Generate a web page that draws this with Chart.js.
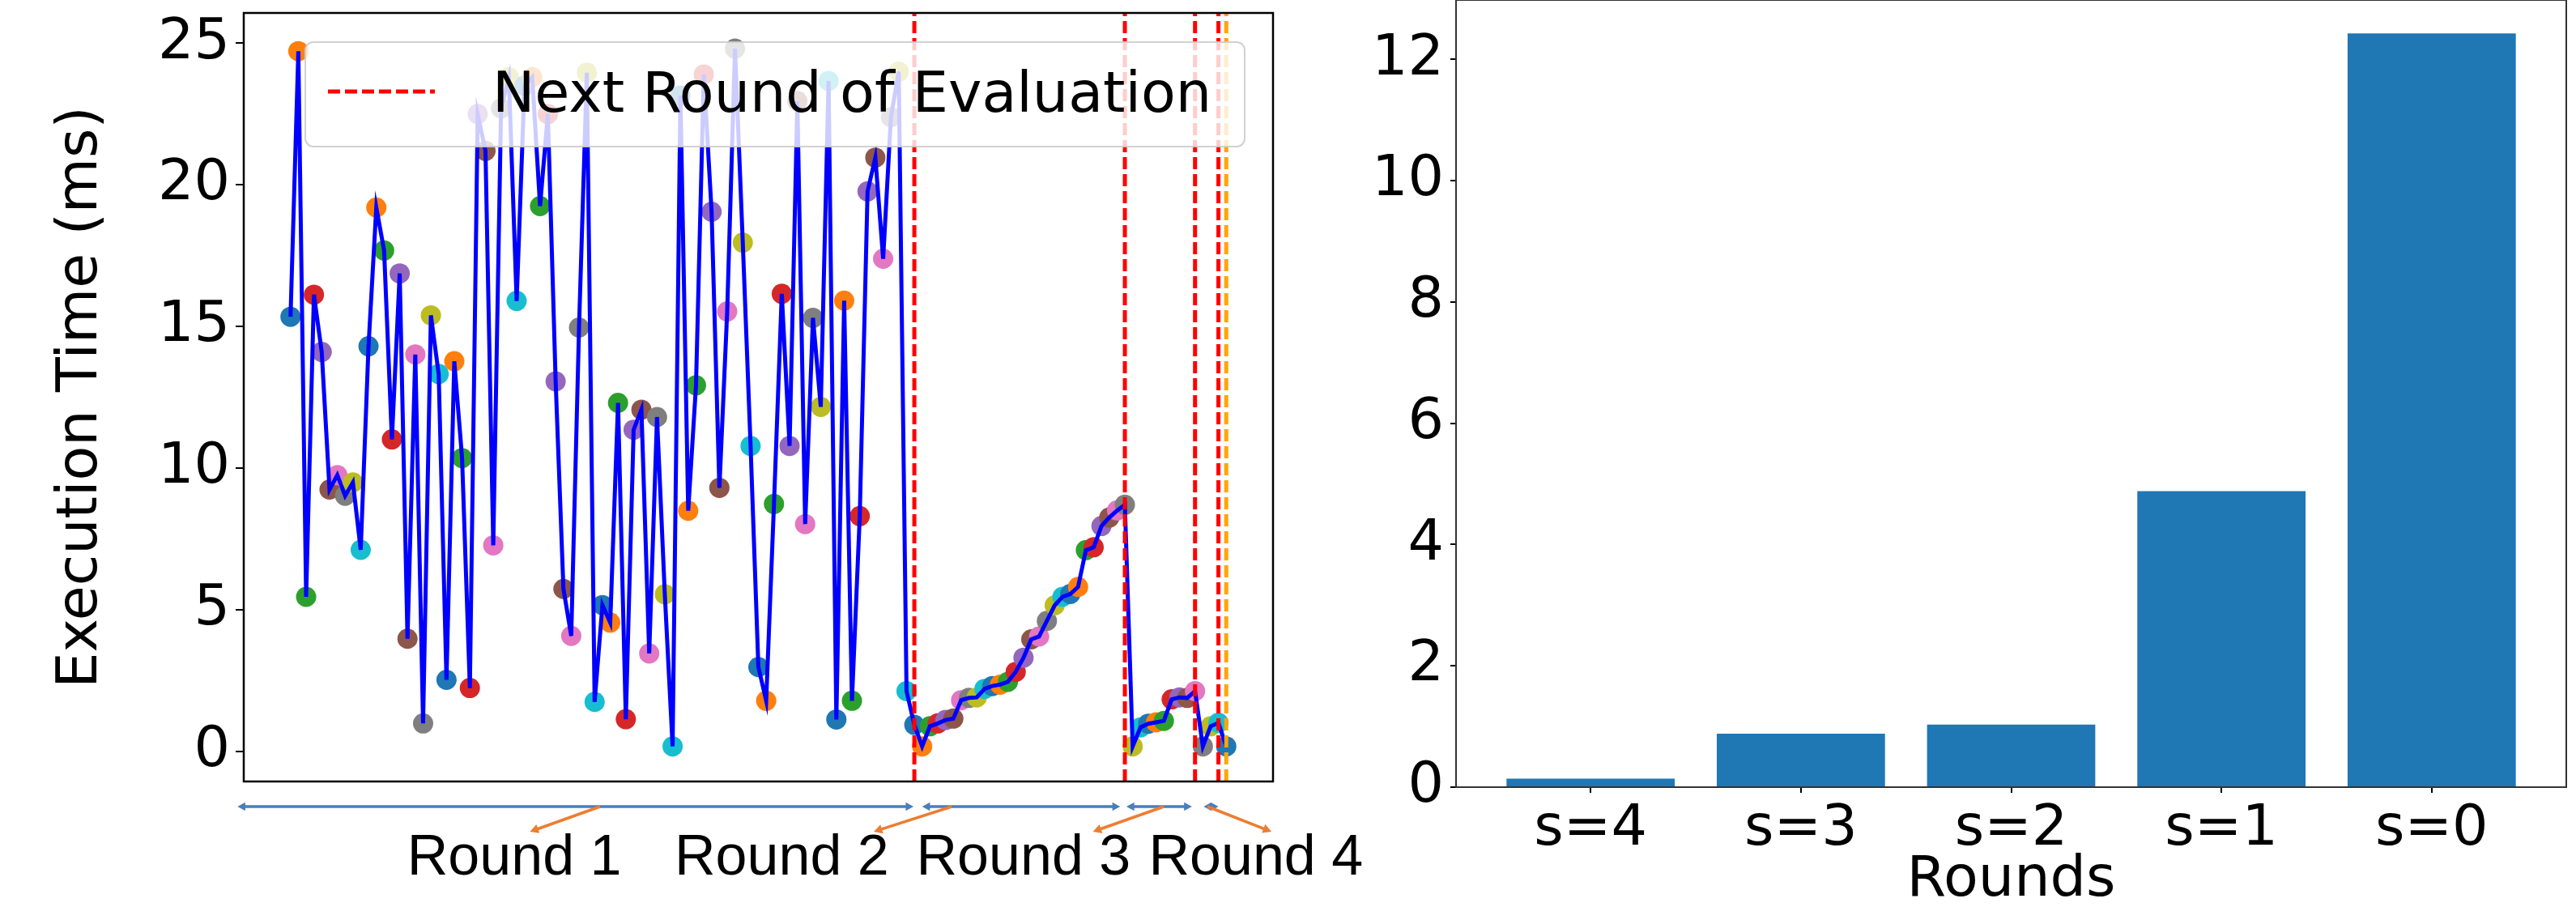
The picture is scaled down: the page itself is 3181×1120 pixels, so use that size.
<!DOCTYPE html>
<html>
<head>
<meta charset="utf-8">
<script src="https://cdn.jsdelivr.net/npm/chart.js@4.4.1/dist/chart.umd.min.js"></script>
<style>
  html, body { margin: 0; padding: 0; background: #fff; }
  body { width: 3181px; height: 1120px; position: relative; overflow: hidden; }
  #timeline { position: absolute; left: 0; top: 0; }
  #rounds { position: absolute; left: 1640px; top: 0; }
</style>
</head>
<body>
<canvas id="timeline" width="1700" height="1120"></canvas>
<canvas id="rounds" width="1541" height="1150"></canvas>
<script>
// execution time (ms) of each evaluated config, in the order they ran
const round1Times = [
  15.34, 24.72, 5.45, 16.12, 14.1, 9.24, 9.75, 9.02, 9.49, 7.11,
  14.3, 19.2, 17.68, 11.01, 16.87, 3.97, 14.01, 0.98, 15.39, 13.32,
  2.52, 13.77, 10.35, 2.23, 22.5, 21.2, 7.27, 22.7, 23.8, 15.9,
  23.5, 23.8, 19.25, 22.5, 13.06, 5.73, 4.07, 14.96, 23.96, 1.74,
  5.16, 4.54, 12.3, 1.13, 11.35, 12.06, 3.45, 11.8, 5.54, 0.17,
  23.15, 8.49, 12.92, 23.9, 19.05, 9.3, 15.53, 24.81, 17.96, 10.78,
  2.97, 1.78, 8.73, 16.15, 10.78, 22.96, 8.02, 15.3, 12.16, 23.67,
  1.12, 15.91, 1.78, 8.3, 19.77, 20.96, 17.39, 22.39, 24.0, 2.12
];
const round2Times = [
  0.93, 0.17, 0.88, 0.98, 1.10, 1.15, 1.80, 1.88, 1.90, 2.20,
  2.30, 2.35, 2.45, 2.80, 3.30, 3.95, 4.05, 4.60, 5.15, 5.45,
  5.55, 5.80, 7.10, 7.20, 7.95, 8.25, 8.50
];
const round3Times = [8.70, 0.17, 0.84, 0.97, 1.02, 1.07, 1.83, 1.90, 1.88];
const round4Times = [2.12, 0.17, 0.88, 1.00, 0.17];

// where a new round starts (index of the config), and the final pick
const nextRoundAt = [80, 107, 116, 119];
const finalAt = [120];
const timeTicks = [0, 5, 10, 15, 20, 25];

// time per round for the bar chart
const roundLabels = ["s=4", "s=3", "s=2", "s=1", "s=0"];
const roundCosts = [0.14, 0.88, 1.03, 4.88, 12.43];
const costTicks = [0, 2, 4, 6, 8, 10, 12];

// the arrows drawn under the left chart (in config-index units)
const roundNames = ["Round 1", "Round 2", "Round 3", "Round 4"];
const roundSpans = [[-6.8, 79.9], [81.0, 106.4], [107.2, 115.6], [117.1, 119.0]];
const calloutFrom = [39.7, 84.8, 112.0, 117.6];
const calloutTo = [30.7, 74.8, 102.9, 125.8];
const calloutText = [28.7, 63.0, 94.0, 123.8];

const tab10 = ["#1f77b4", "#ff7f0e", "#2ca02c", "#d62728", "#9467bd",
               "#8c564b", "#e377c2", "#7f7f7f", "#bcbd22", "#17becf"];

Chart.defaults.font.family = "'DejaVu Sans', sans-serif";
Chart.defaults.font.size = 70;
Chart.defaults.color = "#000";
Chart.defaults.animation = false;
Chart.defaults.events = [];
Chart.defaults.plugins.legend.display = false;
Chart.defaults.plugins.tooltip.enabled = false;

const yMin = -1.07, yMax = 26.07;

const allTimes = [...round1Times, ...round2Times, ...round3Times, ...round4Times];
const points = allTimes.map((v, i) => ({ x: i, y: v }));

function frame(width, color) {
  return {
    id: "frame",
    afterDraw(chart) {
      const { ctx, chartArea: a } = chart;
      ctx.save();
      ctx.strokeStyle = color;
      ctx.lineWidth = width;
      ctx.strokeRect(a.left, a.top, a.right - a.left, a.bottom - a.top);
      ctx.restore();
    },
  };
}

const legendBox = {
  id: "legendBox",
  afterDatasetsDraw(chart) {
    const { ctx, chartArea: a } = chart;
    const x = a.left + 76, y = a.top + 36, w = 1160, h = 129;
    ctx.save();
    ctx.beginPath();
    ctx.roundRect(x, y, w, h, 10);
    ctx.fillStyle = "rgba(255,255,255,0.8)";
    ctx.fill();
    ctx.strokeStyle = "rgba(204,204,204,0.9)";
    ctx.lineWidth = 2;
    ctx.stroke();
    ctx.beginPath();
    ctx.setLineDash([15, 6]);
    ctx.strokeStyle = "#ff0000";
    ctx.lineWidth = 5;
    ctx.moveTo(x + 28, y + 61);
    ctx.lineTo(x + 160, y + 61);
    ctx.stroke();
    ctx.setLineDash([]);
    ctx.fillStyle = "#000";
    ctx.font = "70px 'DejaVu Sans'";
    ctx.textBaseline = "alphabetic";
    ctx.fillText(chart.data.datasets[2].label, x + 231, y + 86);
    ctx.restore();
  },
};

function arrowHead(ctx, x, y, angle, size) {
  ctx.beginPath();
  ctx.moveTo(x, y);
  ctx.lineTo(x - size * Math.cos(angle - 0.5), y - size * Math.sin(angle - 0.5));
  ctx.lineTo(x - size * Math.cos(angle + 0.5), y - size * Math.sin(angle + 0.5));
  ctx.closePath();
  ctx.fill();
}

const roundArrows = {
  id: "roundArrows",
  afterDraw(chart) {
    const { ctx, chartArea: a } = chart;
    const xs = chart.scales.x;
    const yLine = a.bottom + 31, yEnd = a.bottom + 62, yText = a.bottom + 115;
    ctx.save();
    ctx.lineWidth = 3.5;
    ctx.strokeStyle = ctx.fillStyle = "#4a7ebb";
    roundSpans.forEach(([s, e]) => {
      const x1 = xs.getPixelForValue(s), x2 = xs.getPixelForValue(e);
      ctx.beginPath();
      ctx.moveTo(x1 + 4, yLine);
      ctx.lineTo(x2 - 4, yLine);
      ctx.stroke();
      arrowHead(ctx, x1, yLine, Math.PI, 11);
      arrowHead(ctx, x2, yLine, 0, 11);
    });
    ctx.strokeStyle = ctx.fillStyle = "#ed7d31";
    calloutFrom.forEach((f, k) => {
      const x1 = xs.getPixelForValue(f), x2 = xs.getPixelForValue(calloutTo[k]);
      const ang = Math.atan2(yEnd - yLine, x2 - x1);
      ctx.beginPath();
      ctx.moveTo(x1, yLine);
      ctx.lineTo(x2 - 6 * Math.cos(ang), yEnd - 6 * Math.sin(ang));
      ctx.stroke();
      arrowHead(ctx, x2, yEnd, ang, 12);
    });
    ctx.fillStyle = "#000";
    ctx.font = "70px 'Liberation Sans'";
    ctx.textAlign = "center";
    ctx.textBaseline = "alphabetic";
    roundNames.forEach((t, k) => {
      ctx.fillText(t, xs.getPixelForValue(calloutText[k]), yText);
    });
    ctx.restore();
  },
};

function vline(x, color, label) {
  return {
    type: "line",
    label: label,
    data: [{ x: x, y: yMin }, { x: x, y: yMax }],
    showLine: true,
    borderColor: color,
    borderDash: [15, 6],
    borderWidth: 5,
    pointRadius: 0,
    order: 1,
  };
}

// keep the axis boxes from adding room for half a tick label
function noLabelPadding(s) {
  s.paddingTop = 0;
  s.paddingBottom = 0;
  s.paddingLeft = 0;
  s.paddingRight = 0;
}

new Chart(document.getElementById("timeline"), {
  type: "scatter",
  data: {
    datasets: [
      {
        label: "configs",
        data: points,
        pointRadius: 12.5,
        pointBorderWidth: 0,
        pointBackgroundColor: allTimes.map((_, i) => tab10[i % 10]),
        order: 3,
      },
      {
        type: "line",
        label: "time",
        data: points,
        showLine: true,
        borderColor: "#0000ff",
        borderWidth: 5,
        pointRadius: 0,
        tension: 0,
        order: 2,
      },
      ...nextRoundAt.map((x) => vline(x, "#ff0000", "Next Round of Evaluation")),
      ...finalAt.map((x) => vline(x, "#ffa500", "Final")),
    ],
  },
  options: {
    responsive: false,
    devicePixelRatio: 1,
    layout: { padding: { left: 0, top: 16, right: 128, bottom: 155 }, autoPadding: false },
    scales: {
      x: { type: "linear", min: -6, max: 126, display: false },
      y: {
        min: yMin,
        max: yMax,
        afterBuildTicks: (s) => { s.ticks = timeTicks.map((v) => ({ value: v })); },
        afterFit: (s) => { s.width = 301; noLabelPadding(s); },
        ticks: { padding: 7, font: { size: 70 } },
        grid: { drawOnChartArea: false, tickLength: 10, color: "#000", lineWidth: 2 },
        border: { display: false },
        title: {
          display: true,
          text: "Execution Time (ms)",
          font: { size: 70 },
          padding: { top: 59, bottom: 0 },
        },
      },
    },
  },
  plugins: [legendBox, frame(2.5, "#000"), roundArrows],
});

new Chart(document.getElementById("rounds"), {
  type: "bar",
  data: {
    datasets: [
      {
        label: "Rounds",
        data: roundCosts.map((v, i) => ({ x: i, y: v })),
        backgroundColor: "#1f77b4",
        barPercentage: 0.8,
        categoryPercentage: 1.0,
      },
    ],
  },
  options: {
    responsive: false,
    devicePixelRatio: 1,
    layout: { padding: { left: 0, top: 0, right: 12, bottom: 0 }, autoPadding: false },
    scales: {
      x: {
        type: "linear",
        min: -0.64,
        max: 4.64,
        offset: false,
        afterBuildTicks: (s) => { s.ticks = roundLabels.map((_, i) => ({ value: i })); },
        afterFit: (s) => { s.height = 178; noLabelPadding(s); },
        ticks: { callback: (v) => roundLabels[v], padding: 4, maxRotation: 0, autoSkip: false },
        grid: { offset: false, drawOnChartArea: false, tickLength: 7, color: "#000", lineWidth: 2 },
        border: { display: false },
        title: { display: true, text: "Rounds", padding: { top: 0, bottom: 20 } },
      },
      y: {
        min: 0,
        max: 12.98,
        afterBuildTicks: (s) => { s.ticks = costTicks.map((v) => ({ value: v })); },
        afterFit: (s) => { s.width = 158; noLabelPadding(s); },
        ticks: { padding: 8 },
        grid: { drawOnChartArea: false, tickLength: 7, color: "#000", lineWidth: 2 },
        border: { display: false },
      },
    },
  },
  plugins: [frame(2, "#333")],
});
</script>
</body>
</html>
